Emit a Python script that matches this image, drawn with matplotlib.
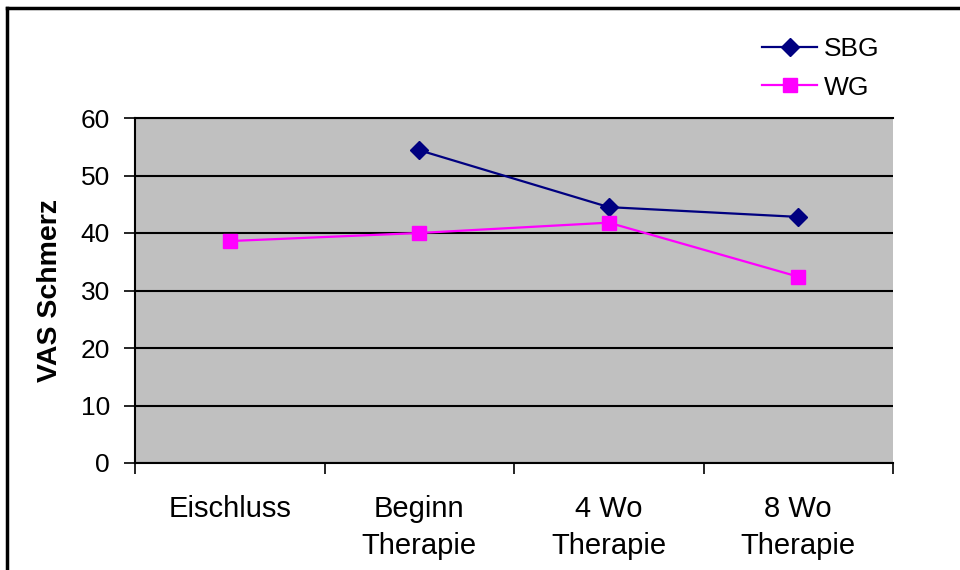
import matplotlib.pyplot as plt
from matplotlib.lines import Line2D

categories = ['Eischluss', 'Beginn\nTherapie', '4 Wo\nTherapie', '8 Wo\nTherapie']
sbg_x = [1, 2, 3]
sbg = [54.4, 44.5, 42.8]
wg_x = [0, 1, 2, 3]
wg = [38.6, 40.0, 41.8, 32.4]
yticks = [0, 10, 20, 30, 40, 50, 60]

plt.rcParams['font.family'] = ['Liberation Sans', 'DejaVu Sans']

fig = plt.figure(figsize=(9.6, 5.7), dpi=100)
ax = fig.add_axes([135/960, 1-463/570, (893-135)/960, (463-118)/570])
ax.set_facecolor('#C0C0C0')

ax.plot(sbg_x, sbg, color='#000080', lw=1.6, marker='D', markersize=9.5, label='SBG')
ax.plot(wg_x, wg, color='#FF00FF', lw=1.6, marker='s', markersize=10, label='WG')

ax.set_xlim(-0.5, 3.5)
ax.set_ylim(0, 60)
ax.set_yticks(yticks)
ax.yaxis.grid(True, color='black', lw=1.5)
ax.set_axisbelow(True)

# category boundaries as ticks, names centred between them
ax.set_xticks([-0.5, 0.5, 1.5, 2.5, 3.5])
ax.set_xticklabels([])
ax.set_xticks(range(len(categories)), minor=True)
ax.set_xticklabels(categories, minor=True, fontsize=21, linespacing=1.4)
ax.tick_params(axis='x', which='major', length=8, width=1.2, direction='out')
ax.tick_params(axis='x', which='minor', length=0, pad=23)
ax.tick_params(axis='y', length=8, width=1.2, direction='out', pad=10, labelsize=19)

ax.spines['right'].set_visible(False)
for s in ['left', 'bottom', 'top']:
    ax.spines[s].set_linewidth(1.5)

ax.set_ylabel('VAS Schmerz', fontsize=20.5, fontweight='bold', labelpad=13)

fig.legend(loc='upper left', bbox_to_anchor=(762/960, 1-37/570), frameon=False,
           fontsize=19, handlelength=2.1, handletextpad=0.25, labelspacing=0.55,
           borderaxespad=0, borderpad=0)

# cropped outer frame (left and top)
fig.add_artist(Line2D([7/960, 7/960], [0, 1-7.5/570], color='black', lw=2.5, transform=fig.transFigure))
fig.add_artist(Line2D([7/960, 1], [1-7.5/570, 1-7.5/570], color='black', lw=2.5, transform=fig.transFigure))

fig.savefig('out.png', dpi=100)
